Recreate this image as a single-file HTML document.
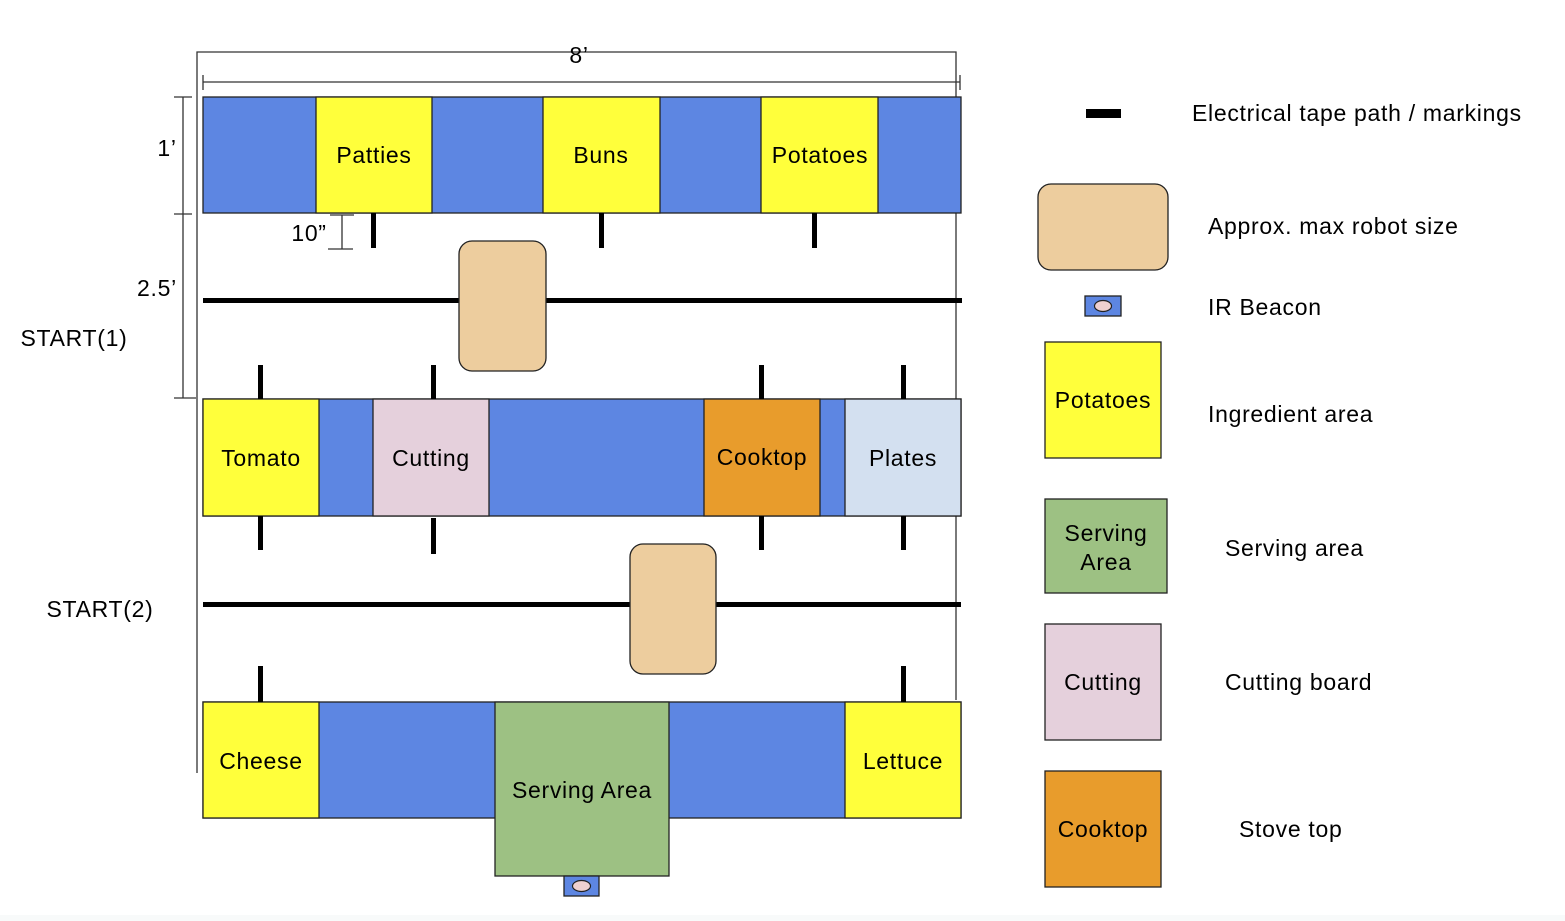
<!DOCTYPE html>
<html><head><meta charset="utf-8"><style>
html,body{margin:0;padding:0;background:#fff;}
svg{display:block;}
text{font-family:"Liberation Sans",Arial,sans-serif;fill:#000;letter-spacing:0.7px;}
</style></head><body>
<svg width="1565" height="921" viewBox="0 0 1565 921" xmlns="http://www.w3.org/2000/svg">
<rect x="0" y="915" width="1565" height="6" fill="#f8fafa"/>
<!-- outer frame -->
<path d="M197 773 V52 H956 V700" fill="none" stroke="#333" stroke-width="1.3"/>
<!-- 8' dimension -->
<line x1="203" y1="82" x2="960" y2="82" stroke="#333" stroke-width="1.3"/>
<line x1="203" y1="75" x2="203" y2="90" stroke="#333" stroke-width="1.3"/>
<line x1="960" y1="75" x2="960" y2="90" stroke="#333" stroke-width="1.3"/>
<text x="579" y="63" font-size="23" text-anchor="middle">8’</text>
<!-- left dimension -->
<line x1="183" y1="97" x2="183" y2="398" stroke="#333" stroke-width="1.3"/>
<line x1="174" y1="97" x2="192" y2="97" stroke="#333" stroke-width="1.3"/>
<line x1="174" y1="214" x2="192" y2="214" stroke="#333" stroke-width="1.3"/>
<line x1="174" y1="398" x2="196" y2="398" stroke="#333" stroke-width="1.3"/>
<text x="167" y="156" font-size="23" text-anchor="middle">1’</text>
<text x="157" y="296" font-size="23" text-anchor="middle">2.5’</text>
<text x="74" y="346" font-size="23" text-anchor="middle">START(1)</text>
<text x="100" y="617" font-size="23" text-anchor="middle">START(2)</text>
<!-- 10" bracket -->
<line x1="342" y1="215" x2="342" y2="249" stroke="#333" stroke-width="1.3"/>
<line x1="330" y1="215" x2="354" y2="215" stroke="#333" stroke-width="1.3"/>
<line x1="328" y1="249" x2="353" y2="249" stroke="#333" stroke-width="1.3"/>
<text x="309" y="241" font-size="23" text-anchor="middle">10”</text>

<g stroke="#222" stroke-width="1.3">
<rect x="203" y="97" width="758" height="116" fill="#5d86e2"/>
<rect x="316" y="97" width="116" height="116" fill="#ffff3b"/>
<rect x="543" y="97" width="117" height="116" fill="#ffff3b"/>
<rect x="761" y="97" width="117" height="116" fill="#ffff3b"/>
<rect x="203" y="399" width="758" height="117" fill="#5d86e2"/>
<rect x="203" y="399" width="116" height="117" fill="#ffff3b"/>
<rect x="373" y="399" width="116" height="117" fill="#e5d0dc"/>
<rect x="704" y="399" width="116" height="117" fill="#e89c2c"/>
<rect x="845" y="399" width="116" height="117" fill="#d3e0f0"/>
<rect x="203" y="702" width="758" height="116" fill="#5d86e2"/>
<rect x="203" y="702" width="116" height="116" fill="#ffff3b"/>
<rect x="845" y="702" width="116" height="116" fill="#ffff3b"/>
<rect x="495" y="702" width="174" height="174" fill="#9dc183"/>
<rect x="564" y="876" width="35" height="20" fill="#5d86e2"/>
</g>
<ellipse cx="581.5" cy="886" rx="9" ry="5.5" fill="#efd0d0" stroke="#222" stroke-width="1.2"/>

<g fill="#000">
<rect x="371" y="213" width="5" height="35"/>
<rect x="599" y="213" width="5" height="35"/>
<rect x="812" y="213" width="5" height="35"/>
<rect x="203" y="298" width="759" height="5"/>
<rect x="203" y="602" width="758" height="5"/>
<rect x="258" y="365" width="5" height="34"/>
<rect x="431" y="365" width="5" height="34"/>
<rect x="759" y="365" width="5" height="34"/>
<rect x="901" y="365" width="5" height="34"/>
<rect x="258" y="516" width="5" height="34"/>
<rect x="431" y="518" width="5" height="36"/>
<rect x="759" y="516" width="5" height="34"/>
<rect x="901" y="516" width="5" height="34"/>
<rect x="258" y="666" width="5" height="36"/>
<rect x="901" y="666" width="5" height="36"/>
</g>
<rect x="459" y="241" width="87" height="130" rx="13" fill="#edcd9e" stroke="#222" stroke-width="1.3"/>
<rect x="630" y="544" width="86" height="130" rx="13" fill="#edcd9e" stroke="#222" stroke-width="1.3"/>

<g font-size="23" text-anchor="middle">
<text x="374" y="163">Patties</text>
<text x="601" y="163">Buns</text>
<text x="820" y="163">Potatoes</text>
<text x="261" y="466">Tomato</text>
<text x="431" y="466">Cutting</text>
<text x="762" y="465">Cooktop</text>
<text x="903" y="466">Plates</text>
<text x="261" y="769">Cheese</text>
<text x="582" y="798">Serving Area</text>
<text x="903" y="769">Lettuce</text>
</g>

<rect x="1086" y="109" width="35" height="9" fill="#000"/>
<text x="1192" y="121" font-size="23">Electrical tape path / markings</text>
<rect x="1038" y="184" width="130" height="86" rx="13" fill="#edcd9e" stroke="#222" stroke-width="1.3"/>
<text x="1208" y="234" font-size="23">Approx. max robot size</text>
<rect x="1085" y="296" width="36" height="20" fill="#5d86e2" stroke="#222" stroke-width="1.3"/>
<ellipse cx="1103" cy="306" rx="8.5" ry="5.5" fill="#efd0d0" stroke="#222" stroke-width="1.2"/>
<text x="1208" y="315" font-size="23">IR Beacon</text>
<g stroke="#222" stroke-width="1.3">
<rect x="1045" y="342" width="116" height="116" fill="#ffff3b"/>
<rect x="1045" y="499" width="122" height="94" fill="#9dc183"/>
<rect x="1045" y="624" width="116" height="116" fill="#e5d0dc"/>
<rect x="1045" y="771" width="116" height="116" fill="#e89c2c"/>
</g>
<g font-size="23" text-anchor="middle">
<text x="1103" y="408">Potatoes</text>
<text x="1106" y="541">Serving</text>
<text x="1106" y="570">Area</text>
<text x="1103" y="690">Cutting</text>
<text x="1103" y="837">Cooktop</text>
</g>
<g font-size="23">
<text x="1208" y="422">Ingredient area</text>
<text x="1225" y="556">Serving area</text>
<text x="1225" y="690">Cutting board</text>
<text x="1239" y="837">Stove top</text>
</g>
</svg>
</body></html>
